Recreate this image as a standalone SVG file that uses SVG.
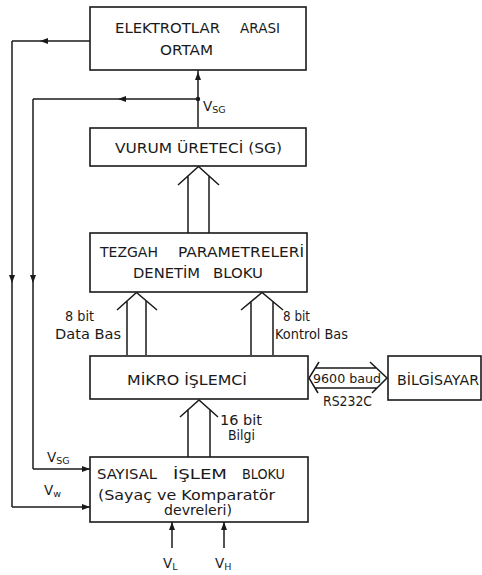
<svg xmlns="http://www.w3.org/2000/svg" width="482" height="575" viewBox="0 0 482 575">
<style>
.box{fill:#fff;stroke:#1a1a1a;stroke-width:1.6}
.ln{fill:none;stroke:#1a1a1a;stroke-width:1.5;stroke-linejoin:miter}
.t{font-family:"DejaVu Sans","Liberation Sans",sans-serif;font-size:13.5px;fill:#1a1a1a}
.s{font-size:12px}
.sub{font-size:9.5px}
</style>
<defs>
<marker id="ah" markerUnits="userSpaceOnUse" markerWidth="9" markerHeight="7" refX="8" refY="3.5" orient="auto">
<path d="M0,0.5 L8,3.5 L0,6.5 z" fill="#1a1a1a"/>
</marker>
<marker id="am" markerUnits="userSpaceOnUse" markerWidth="9" markerHeight="7" refX="4" refY="3.5" orient="auto">
<path d="M0,0.5 L8,3.5 L0,6.5 z" fill="#1a1a1a"/>
</marker>
</defs>
<g id="connectors">
<path class="ln" d="M198,127 L198,76 L198,70" marker-mid="url(#am)"/>
<path class="ln" d="M198,99 L122,99 L33,99" marker-mid="url(#am)"/>
<path class="ln" d="M33,99 L33,279 L33,469" marker-mid="url(#am)"/>
<path class="ln" d="M33,469 L90,469" marker-end="url(#ah)"/>
<circle cx="198" cy="99" r="2.2" fill="#1a1a1a"/>
<path class="ln" d="M90,41 L44,41 L12,41" marker-mid="url(#am)"/>
<path class="ln" d="M12,41 L12,279 L12,507" marker-mid="url(#am)"/>
<path class="ln" d="M12,507 L90,507" marker-end="url(#ah)"/>
<path class="ln" d="M188,233 V176 M209,233 V176 M178,185 L198.5,166.5 L219,185"/>
<path class="ln" d="M127,355 V301 M146,355 V301 M117,310 L136.5,292.5 L157,310"/>
<path class="ln" d="M251,355 V301 M273,355 V301 M241,310 L262,292.5 L283,310"/>
<path class="ln" d="M188,457 V409 M210,457 V409 M180,417 L199,400 L218,417"/>
<path class="ln" d="M172,548 V522" marker-end="url(#ah)"/>
<path class="ln" d="M224,548 V522" marker-end="url(#ah)"/>
<path class="ln" d="M315,368 H376 M315,388 H377 M319,362 L309,378 L318,393 M370,362 L387,378 L372,393"/>
</g>
<g id="elektrotlar">
<rect class="box" x="90" y="7" width="216" height="63"/>
<text class="t" y="33"><tspan x="115" textLength="105" lengthAdjust="spacingAndGlyphs">ELEKTROTLAR</tspan> <tspan x="240" textLength="40" lengthAdjust="spacingAndGlyphs">ARASI</tspan></text>
<text class="t" x="160" y="55" textLength="53" lengthAdjust="spacingAndGlyphs">ORTAM</text>
</g>
<g id="vsg-label">
<text class="t" x="203" y="111">V<tspan class="sub" dy="2">SG</tspan></text>
</g>
<g id="vurum">
<rect class="box" x="90" y="128" width="216" height="38"/>
<text class="t" x="115" y="153" textLength="167" lengthAdjust="spacingAndGlyphs">VURUM ÜRETECİ (SG)</text>
</g>
<g id="tezgah">
<rect class="box" x="90" y="233" width="217" height="59"/>
<text class="t" y="257"><tspan x="100" textLength="58" lengthAdjust="spacingAndGlyphs">TEZGAH</tspan> <tspan x="178" textLength="126" lengthAdjust="spacingAndGlyphs">PARAMETRELERİ</tspan></text>
<text class="t" y="278"><tspan x="133" textLength="67" lengthAdjust="spacingAndGlyphs">DENETİM</tspan> <tspan x="213" textLength="50" lengthAdjust="spacingAndGlyphs">BLOKU</tspan></text>
</g>
<g id="bus-labels">
<text class="t" x="65" y="321" textLength="29" lengthAdjust="spacingAndGlyphs">8 bit</text>
<text class="t" x="55" y="339" textLength="66" lengthAdjust="spacingAndGlyphs">Data Bas</text>
<text class="t" x="283" y="321" textLength="27" lengthAdjust="spacingAndGlyphs">8 bit</text>
<text class="t" x="275" y="339" textLength="73" lengthAdjust="spacingAndGlyphs">Kontrol Bas</text>
<text class="t" x="220" y="425" textLength="42" lengthAdjust="spacingAndGlyphs">16 bit</text>
<text class="t" x="228" y="440" textLength="27" lengthAdjust="spacingAndGlyphs">Bilgi</text>
</g>
<g id="mikro">
<rect class="box" x="90" y="356" width="218" height="43"/>
<text class="t" x="127" y="385" textLength="120" lengthAdjust="spacingAndGlyphs">MİKRO İŞLEMCİ</text>
</g>
<g id="link-labels">
<text class="t s" x="313" y="383" textLength="68" lengthAdjust="spacingAndGlyphs">9600 baud</text>
<text class="t" x="323" y="406" textLength="49" lengthAdjust="spacingAndGlyphs">RS232C</text>
</g>
<g id="bilgisayar">
<rect class="box" x="388" y="356" width="93" height="44"/>
<text class="t" x="397" y="385" textLength="82" lengthAdjust="spacingAndGlyphs">BİLGİSAYAR</text>
</g>
<g id="sayisal">
<rect class="box" x="90" y="457" width="218" height="65"/>
<text class="t" y="479"><tspan x="97" textLength="60" lengthAdjust="spacingAndGlyphs">SAYISAL</tspan> <tspan x="173" textLength="54" lengthAdjust="spacingAndGlyphs">İŞLEM</tspan> <tspan x="242" textLength="43" lengthAdjust="spacingAndGlyphs">BLOKU</tspan></text>
<text class="t" x="98" y="500" textLength="177" lengthAdjust="spacingAndGlyphs">(Sayaç ve Komparatör</text>
<text class="t" x="164" y="515" textLength="68" lengthAdjust="spacingAndGlyphs">devreleri)</text>
</g>
<g id="input-labels">
<text class="t" x="47" y="462">V<tspan class="sub" dy="2">SG</tspan></text>
<text class="t" x="44" y="495">V<tspan class="sub" dy="2">w</tspan></text>
<text class="t" x="163" y="568">V<tspan class="sub" dy="2">L</tspan></text>
<text class="t" x="215" y="568">V<tspan class="sub" dy="2">H</tspan></text>
</g>
</svg>
